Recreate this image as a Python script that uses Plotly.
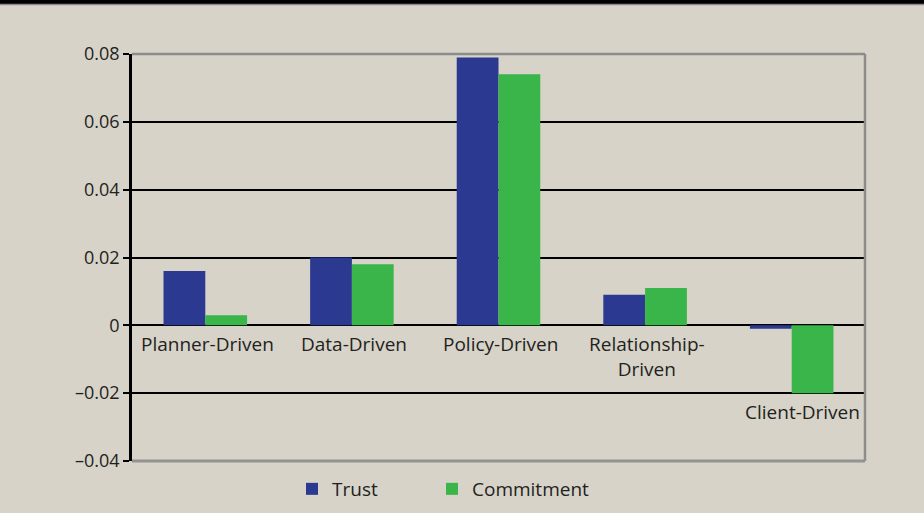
import plotly.graph_objects as go

categories = ["Planner-Driven", "Data-Driven", "Policy-Driven", "Relationship-Driven", "Client-Driven"]
category_labels = ["Planner-Driven", "Data-Driven", "Policy-Driven", "Relationship-<br>Driven", "Client-Driven"]
trust = [0.016, 0.020, 0.079, 0.009, -0.001]
commitment = [0.003, 0.018, 0.074, 0.011, -0.020]
y_tick_vals = [-0.04, -0.02, 0, 0.02, 0.04, 0.06, 0.08]
y_tick_text = ["\u20130.04", "\u20130.02", "0", "0.02", "0.04", "0.06", "0.08"]

W, H = 924, 513
L, R, T, B = 132, 59, 54, 52
PW, PH = W - L - R, H - T - B
BG = "#d7d3c9"
TXT = "#231f20"
FONT = dict(family="Open Sans", size=19, color=TXT)
TICKFONT = dict(family="Open Sans", size=18, color=TXT)
YMIN, YMAX = -0.04, 0.08

fig = go.Figure()
fig.add_bar(x=categories, y=trust, name="Trust", legend="legend",
            marker=dict(color="#2b3990", line_width=0))
fig.add_bar(x=categories, y=commitment, name="Commitment", legend="legend2",
            marker=dict(color="#39b54a", line_width=0))

# category labels just below the lowest point of each group (or the zero line)
for i, (cat, lab) in enumerate(zip(categories, category_labels)):
    ybase = min(0, trust[i], commitment[i])
    fig.add_annotation(x=cat, y=ybase, text=lab, showarrow=False,
                       yanchor="top", yshift=-4, xshift=(11 if ybase < 0 else 2),
                       font=FONT, align="center")

n = len(categories)
bounds = [i - 0.5 for i in range(n + 1)]

shapes = [
    # top dark band
    dict(type="rect", xref="paper", yref="paper",
         x0=-L / PW, x1=(W - L) / PW, y0=1 + (T - 4) / PH, y1=1 + T / PH + 0.01,
         fillcolor="#000000", line_width=0, layer="above"),
    dict(type="line", xref="paper", yref="paper",
         x0=-L / PW, x1=(W - L) / PW, y0=1 + (T - 4.5) / PH, y1=1 + (T - 4.5) / PH,
         line=dict(color="#8a8a8a", width=1.5), layer="above"),
    # plot frame (grey) on top, right and bottom
    dict(type="line", xref="paper", yref="paper", x0=0, x1=1, y0=1, y1=1,
         line=dict(color="#8c8c8c", width=2.5), layer="above"),
    dict(type="line", xref="paper", yref="paper", x0=1, x1=1, y0=0, y1=1,
         line=dict(color="#8c8c8c", width=2.5), layer="above"),
    dict(type="line", xref="paper", yref="paper", x0=0, x1=1, y0=0, y1=0,
         line=dict(color="#939393", width=3), layer="above"),
]

legend_y = -(489 - (H - B)) / PH
legend_common = dict(orientation="h", xanchor="left", y=legend_y, yanchor="middle",
                     bgcolor="rgba(0,0,0,0)", font=FONT)

fig.update_layout(
    width=W, height=H,
    margin=dict(l=L, r=R, t=T, b=B, pad=0, autoexpand=False),
    paper_bgcolor=BG, plot_bgcolor=BG,
    font=FONT,
    barmode="group", bargap=0.43, bargroupgap=0,
    showlegend=True,
    legend=dict(x=(292 - L) / PW, **legend_common),
    legend2=dict(x=(432 - L) / PW, **legend_common),
    xaxis=dict(type="category", range=[-0.5, n - 0.5], showticklabels=False,
               showgrid=False, showline=False, zeroline=False, ticks=""),
    xaxis2=dict(overlaying="x", anchor="free",
                position=(0 - YMIN) / (YMAX - YMIN),
                range=[-0.5, n - 0.5], tickvals=bounds,
                ticks="outside", ticklen=5, tickwidth=2, tickcolor="#000000",
                showline=True, linecolor="#000000", linewidth=2.5,
                showticklabels=False, showgrid=False, zeroline=False),
    yaxis=dict(range=[YMIN, YMAX], tickvals=y_tick_vals, ticktext=y_tick_text,
               showgrid=True, gridcolor="#000000", gridwidth=2,
               showline=True, linecolor="#000000", linewidth=2.5,
               ticks="outside", ticklen=6, tickwidth=2, tickcolor="#000000",
               zeroline=False, tickfont=TICKFONT),
    shapes=shapes,
)

fig.write_html(
    "out.html",
    config={"displayModeBar": False},
    post_script="document.body.style.margin='0';document.body.style.overflow='hidden';",
)
